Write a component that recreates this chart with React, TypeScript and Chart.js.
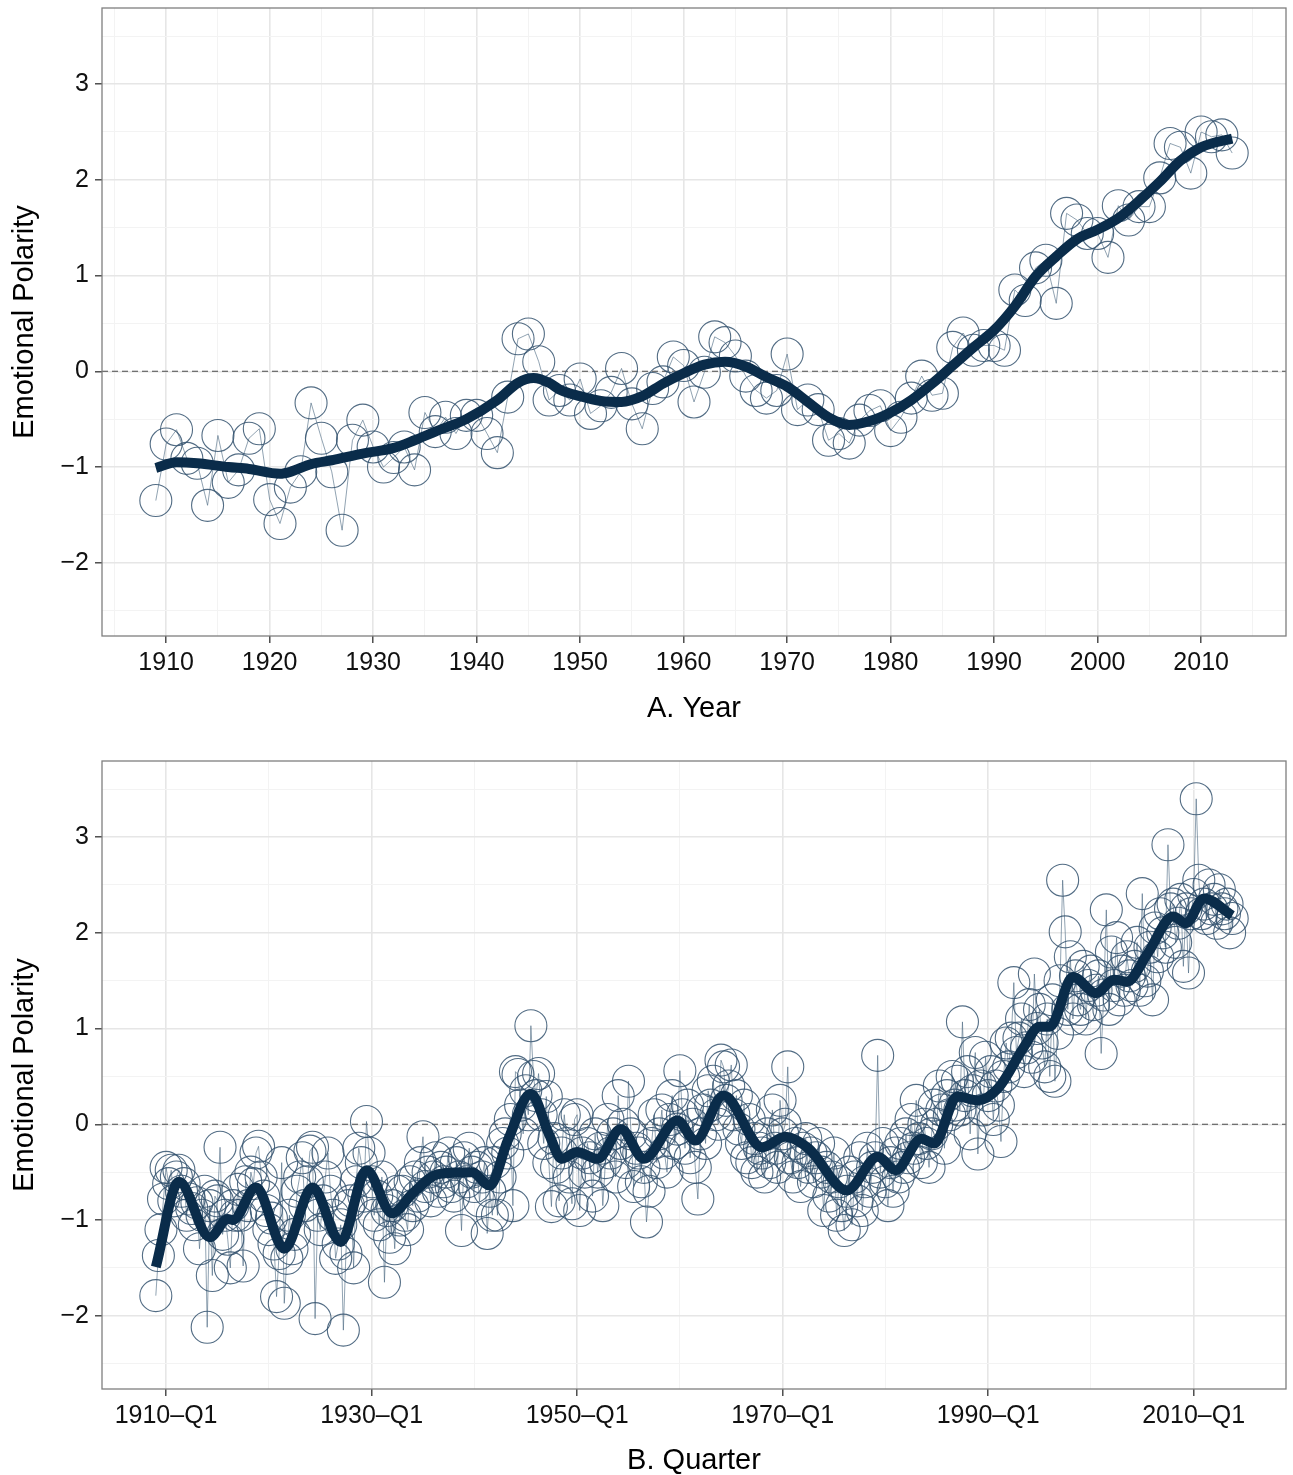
import React, { useEffect, useRef } from 'react';
import { Chart, registerables } from 'chart.js';

Chart.register(...registerables);

const FONT = '"Liberation Sans", Arial, Helvetica, sans-serif';

// ---------- Panel A: yearly ----------
const years: number[] = Array.from({ length: 105 }, (_, i) => 1909 + i);
const yearValues: number[] = [
  -1.35, -0.76, -0.61, -0.91, -0.96, -1.40, -0.67, -1.16, -1.03, -0.70, // 1909-1918
  -0.60, -1.34, -1.59, -1.21, -1.05, -0.33, -0.70, -1.05, -1.66, -0.72, // 1919-1928
  -0.51, -0.79, -1.00, -0.90, -0.79, -1.03, -0.43, -0.63, -0.48, -0.65, // 1929-1938
  -0.46, -0.46, -0.65, -0.85, -0.27, 0.34, 0.39, 0.10, -0.30, -0.20,    // 1939-1948
  -0.30, -0.08, -0.44, -0.36, -0.22, 0.03, -0.34, -0.60, -0.18, -0.11,  // 1949-1958
  0.15, 0.06, -0.32, -0.01, 0.36, 0.30, 0.16, -0.05, -0.20, -0.28,      // 1959-1968
  -0.20, 0.18, -0.40, -0.30, -0.40, -0.72, -0.65, -0.75, -0.51, -0.41,  // 1969-1978
  -0.36, -0.62, -0.48, -0.28, -0.05, -0.25, -0.23, 0.25, 0.40, 0.22,    // 1979-1988
  0.27, 0.27, 0.22, 0.85, 0.74, 1.08, 1.16, 0.71, 1.65, 1.58,           // 1989-1998
  1.44, 1.44, 1.19, 1.73, 1.58, 1.72, 1.72, 2.02, 2.38, 2.34,           // 1999-2008
  2.07, 2.50, 2.45, 2.47, 2.28,                                         // 2009-2013
];
const yearSmoothX: number[] = [
  1909, 1911, 1913, 1916, 1918, 1921, 1922, 1924, 1926, 1929, 1932, 1934, 1936, 1939,
  1942, 1944, 1945.5, 1947, 1948, 1950, 1952, 1954, 1956, 1958, 1960, 1962, 1964, 1966,
  1968, 1970, 1972, 1974, 1976, 1978, 1980, 1982, 1984, 1986, 1988, 1990, 1992, 1994,
  1996, 1998, 2000, 2002, 2004, 2006, 2008, 2010, 2011, 2013,
];
const yearSmoothY: number[] = [
  -1.01, -0.95, -0.96, -1.0, -1.02, -1.07, -1.05, -0.97, -0.93, -0.86, -0.8, -0.72, -0.63, -0.5,
  -0.3, -0.12, -0.07, -0.12, -0.19, -0.26, -0.31, -0.32, -0.26, -0.13, -0.02, 0.07, 0.1, 0.05,
  -0.06, -0.16, -0.32, -0.48, -0.56, -0.52, -0.43, -0.3, -0.13, 0.06, 0.25, 0.43, 0.68, 0.99,
  1.2, 1.38, 1.48, 1.6, 1.78, 1.98, 2.2, 2.34, 2.38, 2.43,
];
const yearMajorTicks: number[] = [1910, 1920, 1930, 1940, 1950, 1960, 1970, 1980, 1990, 2000, 2010];
const yearMinorTicks: number[] = [1905, 1915, 1925, 1935, 1945, 1955, 1965, 1975, 1985, 1995, 2005, 2015];

// ---------- Panel B: quarterly (index 0 = 1909-Q1) ----------
const quarterValues: number[] = [
  -1.79, -1.37, -1.10, -0.78, // 1909
  -0.45, -0.62, -0.48, -0.80, // 1910
  -0.55, -0.48, -0.70, -0.62, // 1911
  -0.95, -0.78, -0.88, -1.05, // 1912
  -0.82, -1.30, -0.95, -0.70, // 1913
  -2.12, -0.85, -1.58, -0.75, // 1914
  -0.80, -0.24, -1.15, -0.95, // 1915
  -1.20, -1.50, -0.85, -0.95, // 1916
  -0.68, -0.95, -1.48, -0.60, // 1917
  -0.85, -0.50, -0.62, -0.30, // 1918
  -0.23, -0.55, -0.75, -0.90, // 1919
  -1.10, -0.98, -1.25, -1.80, // 1920
  -1.35, -0.40, -1.87, -1.40, // 1921
  -0.95, -1.30, -1.15, -0.70, // 1922
  -0.55, -0.35, -0.85, -0.60, // 1923
  -0.28, -0.24, -2.03, -0.95, // 1924
  -1.10, -0.80, -0.55, -0.30, // 1925
  -0.70, -0.95, -1.40, -1.25, // 1926
  -1.05, -2.15, -1.35, -0.85, // 1927
  -0.80, -1.50, -0.60, -0.25, // 1928
  -0.40, -0.75, 0.03, -0.30,  // 1929
  -0.60, -0.95, -0.75, -1.05, // 1930
  -0.55, -1.65, -0.90, -1.18, // 1931
  -0.85, -1.30, -0.70, -1.00, // 1932
  -0.70, -0.95, -1.10, -0.60, // 1933
  -0.85, -0.55, -0.75, -0.40, // 1934
  -0.13, -0.65, -0.50, -0.80, // 1935
  -0.55, -0.35, -0.70, -0.45, // 1936
  -0.60, -0.50, -0.30, -0.65, // 1937
  -0.75, -0.40, -0.55, -1.11, // 1938
  -0.35, -0.60, -0.25, -0.50, // 1939
  -0.65, -0.45, -0.80, -0.55, // 1940
  -0.40, -1.14, -0.70, -0.95, // 1941
  -0.40, -0.95, -0.55, -0.20, // 1942
  -0.10, -0.30, 0.05, -0.85,  // 1943
  0.55, 0.52, 0.20, -0.10,    // 1944
  0.35, 0.10, 1.03, 0.50,     // 1945
  0.30, 0.53, 0.10, -0.20,    // 1946
  0.29, -0.40, -0.86, -0.15,  // 1947
  -0.45, -0.80, -0.30, 0.10,  // 1948
  -0.20, -0.55, -0.83, 0.05,  // 1949
  0.10, -0.90, -0.30, -0.50,  // 1950
  -0.20, -0.35, -0.75, -0.10, // 1951
  -0.50, -0.25, -0.85, -0.40, // 1952
  0.05, -0.30, -0.10, -0.55,  // 1953
  0.30, -0.20, 0.00, -0.40,   // 1954
  0.45, -0.10, -0.65, -0.25,  // 1955
  -0.30, -0.60, -0.45, -1.02, // 1956
  -0.70, -0.20, 0.10, -0.40,  // 1957
  -0.10, 0.15, -0.30, -0.50,  // 1958
  0.05, 0.30, -0.20, -0.05,   // 1959
  0.56, 0.10, -0.25, 0.20,    // 1960
  -0.35, 0.00, -0.45, -0.78,  // 1961
  -0.10, 0.15, -0.20, 0.35,   // 1962
  0.20, 0.45, 0.10, 0.00,     // 1963
  0.67, 0.60, 0.25, 0.40,     // 1964
  0.62, 0.10, 0.30, -0.05,    // 1965
  -0.20, 0.20, -0.35, 0.05,   // 1966
  -0.40, -0.15, -0.50, -0.25, // 1967
  -0.30, -0.55, -0.10, -0.40, // 1968
  0.15, -0.25, -0.45, 0.25,   // 1969
  -0.10, 0.00, 0.60, -0.35,   // 1970
  -0.55, -0.20, -0.40, -0.65, // 1971
  -0.25, -0.15, -0.45, -0.30, // 1972
  -0.60, -0.35, -0.20, -0.50, // 1973
  -0.90, -0.45, -0.75, -0.55, // 1974
  -0.30, -0.95, -0.60, -0.85, // 1975
  -1.11, -0.70, -0.50, -1.05, // 1976
  -0.55, -0.80, -0.35, -0.90, // 1977
  -0.60, -0.25, -0.70, -0.45, // 1978
  -0.35, 0.72, -0.50, -0.20,  // 1979
  -0.60, -0.85, -0.40, -0.70, // 1980
  -0.30, -0.55, -0.20, -0.45, // 1981
  -0.10, -0.35, 0.05, -0.25,  // 1982
  0.25, -0.15, -0.40, 0.00,   // 1983
  -0.20, -0.45, -0.10, 0.20,  // 1984
  0.00, 0.40, 0.15, -0.25,    // 1985
  0.30, 0.10, 0.50, 0.20,     // 1986
  0.45, 0.15, 1.07, 0.30,     // 1987
  0.55, -0.10, 0.35, 0.75,    // 1988
  -0.31, 0.40, 0.15, 0.70,    // 1989
  0.30, 0.55, 0.05, 0.40,     // 1990
  0.20, -0.18, 0.50, 0.85,    // 1991
  0.60, 0.90, 1.48, 0.75,     // 1992
  0.90, 1.10, 0.55, 0.80,     // 1993
  1.25, 0.70, 1.57, 1.00,     // 1994
  1.20, 0.85, 0.60, 1.10,     // 1995
  0.50, 1.30, 0.45, 0.95,     // 1996
  1.50, 2.55, 2.01, 1.20,     // 1997
  1.75, 1.10, 1.55, 1.30,     // 1998
  1.20, 1.65, 1.10, 1.45,     // 1999
  1.60, 1.25, 1.40, 1.55,     // 2000
  0.74, 1.35, 2.24, 1.20,     // 2001
  1.80, 1.45, 1.95, 1.30,     // 2002
  1.60, 1.40, 1.75, 1.55,     // 2003
  1.45, 1.65, 1.90, 1.40,     // 2004
  2.41, 1.50, 1.60, 1.85,     // 2005
  1.30, 2.05, 1.75, 2.20,     // 2006
  2.00, 1.85, 2.92, 2.25,     // 2007
  2.30, 1.90, 2.10, 2.35,     // 2008
  1.65, 2.25, 1.58, 2.20,     // 2009
  2.40, 3.40, 2.55, 2.20,     // 2010
  2.30, 2.15, 2.50, 2.25,     // 2011
  2.35, 2.10, 2.45, 2.25,     // 2012
  2.20, 2.30, 2.00, 2.15,     // 2013
];
const quarterSmoothX: number[] = [
  0, 9, 21, 28, 30, 39, 50, 61, 72, 82, 92, 100, 110, 123, 130, 137, 146, 153, 158, 164,
  172, 181, 190, 203, 210, 221, 236, 245, 254, 269, 281, 288, 298, 303, 312, 320, 328,
  338, 344, 348, 357, 366, 373, 378, 386, 396, 401, 408, 419,
];
const quarterSmoothY: number[] = [
  -1.49, -0.6, -1.18, -0.99, -1.0, -0.66, -1.3, -0.66, -1.23, -0.48, -0.93, -0.72, -0.52, -0.5,
  -0.64, -0.17, 0.32, -0.1, -0.36, -0.29, -0.36, -0.05, -0.36, 0.04, -0.17, 0.3, -0.24, -0.13,
  -0.25, -0.69, -0.34, -0.48, -0.15, -0.2, 0.29, 0.25, 0.38, 0.81, 1.02, 1.02, 1.54, 1.37,
  1.51, 1.49, 1.78, 2.17, 2.1, 2.36, 2.18,
];
const quarterMajorTicks: number[] = [4, 84, 164, 244, 324, 404];
const quarterMajorLabels: string[] = ['1910\u2013Q1', '1930\u2013Q1', '1950\u2013Q1', '1970\u2013Q1', '1990\u2013Q1', '2010\u2013Q1'];
const quarterMinorTicks: number[] = [44, 124, 204, 284, 364];

// ---------- Shared y axis ----------
const yMajorTicks: number[] = [-2, -1, 0, 1, 2, 3];
const yMinorTicks: number[] = [-2.5, -1.5, -0.5, 0.5, 1.5, 2.5, 3.5];
const Y_MIN = -2.765;
const Y_MAX = 3.795;

const CIRCLE = 'rgba(52, 82, 110, 0.85)';
const THIN = 'rgba(70, 100, 125, 0.75)';
const SMOOTH = '#0a2c4a';
const MAJOR_GRID = '#e6e6e6';
const MINOR_GRID = '#f3f3f3';

function fmtNum(v: number): string {
  return v < 0 ? '\u2212' + Math.abs(v) : String(v);
}

const panelPlugin = {
  id: 'panelDeco',
  beforeDatasetsDraw(chart: any) {
    const { ctx, chartArea, scales } = chart;
    const y0 = scales.y.getPixelForValue(0);
    ctx.save();
    ctx.setLineDash([6, 4]);
    ctx.strokeStyle = '#4a4a4a';
    ctx.lineWidth = 1.1;
    ctx.beginPath();
    ctx.moveTo(chartArea.left, y0);
    ctx.lineTo(chartArea.right, y0);
    ctx.stroke();
    ctx.restore();
  },
  afterDatasetsDraw(chart: any) {
    const { ctx, chartArea } = chart;
    ctx.save();
    ctx.strokeStyle = '#7f7f7f';
    ctx.lineWidth = 1.3;
    ctx.strokeRect(chartArea.left, chartArea.top, chartArea.right - chartArea.left, chartArea.bottom - chartArea.top);
    ctx.restore();
  },
};

interface PanelSpec {
  points: { x: number; y: number }[];
  smooth: { x: number; y: number }[];
  xMin: number;
  xMax: number;
  major: number[];
  minor: number[];
  label: (v: number) => string;
  title: string;
  titlePadBottom: number;
  padTop: number;
  xAxisHeight: number;
}

function buildConfig(p: PanelSpec): any {
  const isMajorX = (v: number) => p.major.indexOf(v) >= 0;
  const isMajorY = (v: number) => yMajorTicks.indexOf(v) >= 0;
  return {
    type: 'line',
    data: {
      datasets: [
        {
          data: p.smooth,
          borderColor: SMOOTH,
          borderWidth: 10,
          pointRadius: 0,
          pointHoverRadius: 0,
          cubicInterpolationMode: 'monotone',
          borderCapStyle: 'butt',
          borderJoinStyle: 'round',
          fill: false,
          order: 0,
        },
        {
          data: p.points,
          borderColor: THIN,
          borderWidth: 0.8,
          pointRadius: 16,
          pointHoverRadius: 16,
          pointBorderColor: CIRCLE,
          pointBorderWidth: 1.1,
          pointBackgroundColor: 'rgba(0,0,0,0)',
          tension: 0,
          fill: false,
          order: 1,
        },
      ],
    },
    options: {
      animation: false,
      responsive: false,
      events: [],
      layout: { autoPadding: false, padding: { top: p.padTop, right: 7, left: 0, bottom: 0 } },
      plugins: { legend: { display: false }, tooltip: { enabled: false } },
      scales: {
        x: {
          type: 'linear',
          min: p.xMin,
          max: p.xMax,
          afterBuildTicks(scale: any) {
            scale.ticks = [...p.minor, ...p.major].sort((a, b) => a - b).map((v) => ({ value: v }));
          },
          afterFit(scale: any) {
            scale.height = p.xAxisHeight;
            scale.paddingLeft = 0;
            scale.paddingRight = 0;
          },
          ticks: {
            autoSkip: false,
            maxRotation: 0,
            minRotation: 0,
            padding: 5,
            color: '#111',
            font: { family: FONT, size: 25 },
            callback: (v: number) => (isMajorX(v) ? p.label(v) : ''),
          },
          grid: {
            color: (c: any) => (c.tick && isMajorX(c.tick.value) ? MAJOR_GRID : MINOR_GRID),
            lineWidth: (c: any) => (c.tick && isMajorX(c.tick.value) ? 1.6 : 1),
            tickColor: (c: any) => (c.tick && isMajorX(c.tick.value) ? '#333' : 'rgba(0,0,0,0)'),
            tickLength: 7,
            tickWidth: 1.3,
          },
          border: { display: false },
          title: {
            display: true,
            text: p.title,
            color: '#000',
            font: { family: FONT, size: 29 },
            padding: { top: 0, bottom: p.titlePadBottom },
          },
        },
        y: {
          type: 'linear',
          min: Y_MIN,
          max: Y_MAX,
          afterBuildTicks(scale: any) {
            scale.ticks = [...yMinorTicks, ...yMajorTicks].sort((a, b) => a - b).map((v) => ({ value: v }));
          },
          afterFit(scale: any) {
            scale.width = 102;
            scale.paddingTop = 0;
            scale.paddingBottom = 0;
          },
          ticks: {
            autoSkip: false,
            padding: 6,
            color: '#111',
            font: { family: FONT, size: 25 },
            callback: (v: number) => (isMajorY(v) ? fmtNum(v) : ''),
          },
          grid: {
            color: (c: any) => (c.tick && isMajorY(c.tick.value) ? MAJOR_GRID : MINOR_GRID),
            lineWidth: (c: any) => (c.tick && isMajorY(c.tick.value) ? 1.6 : 1),
            tickColor: (c: any) => (c.tick && isMajorY(c.tick.value) ? '#333' : 'rgba(0,0,0,0)'),
            tickLength: 7,
            tickWidth: 1.3,
          },
          border: { display: false },
          title: {
            display: true,
            text: 'Emotional Polarity',
            color: '#000',
            font: { family: FONT, size: 29 },
            padding: { top: 8, bottom: 0 },
          },
        },
      },
    },
    plugins: [panelPlugin],
  };
}

export default function App() {
  const topRef = useRef<HTMLCanvasElement | null>(null);
  const botRef = useRef<HTMLCanvasElement | null>(null);

  useEffect(() => {
    const yearPts = years.map((x, i) => ({ x, y: yearValues[i] }));
    const yearSmooth = yearSmoothX.map((x, i) => ({ x, y: yearSmoothY[i] }));
    const qPts = quarterValues.map((y, i) => ({ x: i, y }));
    const qSmooth = quarterSmoothX.map((x, i) => ({ x, y: quarterSmoothY[i] }));
    const ySpan = years[years.length - 1] - years[0];
    const qSpan = quarterValues.length - 1;

    const top = new Chart(
      topRef.current as HTMLCanvasElement,
      buildConfig({
        points: yearPts,
        smooth: yearSmooth,
        xMin: years[0] - ySpan * 0.05,
        xMax: years[years.length - 1] + ySpan * 0.05,
        major: yearMajorTicks,
        minor: yearMinorTicks,
        label: (v) => String(v),
        title: 'A. Year',
        titlePadBottom: 14,
        padTop: 8,
        xAxisHeight: 104,
      })
    );
    const bot = new Chart(
      botRef.current as HTMLCanvasElement,
      buildConfig({
        points: qPts,
        smooth: qSmooth,
        xMin: -qSpan * 0.05,
        xMax: qSpan * 1.05,
        major: quarterMajorTicks,
        minor: quarterMinorTicks,
        label: (v) => quarterMajorLabels[quarterMajorTicks.indexOf(v)] || '',
        title: 'B. Quarter',
        titlePadBottom: -3,
        padTop: 21,
        xAxisHeight: 86,
      })
    );
    return () => {
      top.destroy();
      bot.destroy();
    };
  }, []);

  return (
    <div style={{ position: 'absolute', left: 0, top: 0, width: 1293, height: 1475, background: '#fff' }}>
      <canvas ref={topRef} width={1293} height={740} style={{ display: 'block', width: 1293, height: 740 }} />
      <canvas ref={botRef} width={1293} height={735} style={{ display: 'block', width: 1293, height: 735 }} />
    </div>
  );
}
